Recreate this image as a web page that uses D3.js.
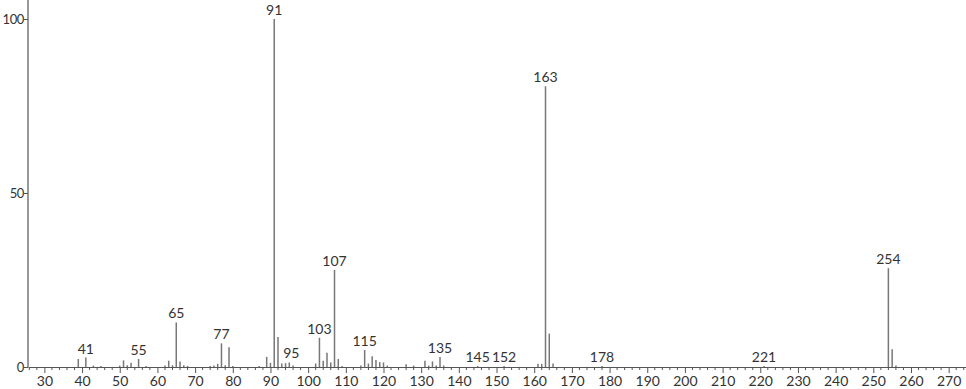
<!DOCTYPE html>
<html>
<head>
<meta charset="utf-8">
<script src="https://cdn.jsdelivr.net/npm/d3@7"></script>
<style>
  body { margin: 0; background: #fff; }
  svg text { font-family: Lato, "DejaVu Sans", sans-serif; fill: #333; }
</style>
</head>
<body>
<svg id="spectrum" width="966" height="389"></svg>
<script>
// m/z values and relative intensities (%)
const mz = [39, 41, 43, 45, 50, 51, 52, 53, 55, 57, 62, 63, 64, 65, 66, 67, 68, 74, 75, 76, 77, 78, 79, 80,
    87, 89, 90, 91, 92, 93, 94, 95, 96, 102, 103, 104, 105, 106, 107, 108, 109, 114, 115, 116, 117, 118,
    119, 120, 121, 126, 128, 131, 132, 133, 134, 135, 136, 145, 152, 161, 162, 163, 164, 165, 178, 221,
    254, 255, 256];
const intensity = [2.3, 2.7, 0.4, 0.3, 0.4, 1.9, 0.5, 1.2, 2.3, 0.3, 0.4, 1.8, 0.5, 12.8, 1.6, 0.5, 0.3, 0.3, 0.4, 0.9, 6.8, 0.5, 5.7, 0.3,
    0.3, 2.9, 1.2, 100, 8.6, 1.0, 1.1, 1.3, 0.4, 1.0, 8.4, 1.8, 4.1, 1.3, 27.9, 2.3, 0.3, 0.4, 4.9, 1.0, 3.1, 2.0,
    1.4, 1.3, 0.4, 0.8, 0.4, 1.8, 0.4, 1.6, 0.4, 2.9, 0.4, 0.3, 0.3, 0.9, 0.9, 80.7, 9.6, 1.0, 0.3, 0.3,
    28.4, 5.1, 0.4];
const labelled = [41, 55, 65, 77, 91, 95, 103, 107, 115, 135, 145, 152, 163, 178, 221, 254];
const yTicks = [0, 50, 100];

const peaks = mz.map((m, i) => ({ mz: m, value: intensity[i] }));

const svg = d3.select("#spectrum");
const x = d3.scaleLinear().domain([25.65, 274.6]).range([28, 966]);
const y = d3.scaleLinear().domain([0, 100]).range([367, 19]);

// x axis: major every 10, minor every 2
const xAxis = svg.append("g")
    .attr("transform", `translate(0,${y(0)})`)
    .call(d3.axisBottom(x)
        .tickValues(d3.range(30, 271, 10))
        .tickSize(6)
        .tickSizeOuter(0)
        .tickPadding(3));
xAxis.select(".domain").attr("stroke", "#555");
xAxis.selectAll(".tick line").attr("stroke", "#555");
xAxis.selectAll(".tick text").attr("font-size", 14).attr("fill", "#333");

svg.append("g")
    .attr("transform", `translate(0,${y(0)})`)
    .selectAll("line")
    .data(d3.range(26, 275, 2).filter(d => d % 10 !== 0))
    .enter().append("line")
    .attr("x1", d => x(d))
    .attr("x2", d => x(d))
    .attr("y1", 0)
    .attr("y2", 3)
    .attr("stroke", "#555");

// y axis
svg.append("line")
    .attr("x1", x.range()[0]).attr("x2", x.range()[0])
    .attr("y1", 0).attr("y2", y(0))
    .attr("stroke", "#999")
    .attr("stroke-width", 2);

const yAxis = svg.append("g")
    .attr("transform", `translate(${x.range()[0]},0)`)
    .call(d3.axisLeft(y).tickValues(yTicks).tickSize(4).tickPadding(0));
yAxis.select(".domain").remove();
yAxis.selectAll(".tick line").attr("stroke", "#555");
yAxis.selectAll(".tick text")
    .attr("font-size", 13)
    .attr("letter-spacing", "-0.4px")
    .attr("fill", "#333");

// peaks
svg.append("g")
    .selectAll("line")
    .data(peaks)
    .enter().append("line")
    .attr("x1", d => x(d.mz))
    .attr("x2", d => x(d.mz))
    .attr("y1", y(0))
    .attr("y2", d => y(d.value))
    .attr("stroke", "#777")
    .attr("stroke-width", 1.5);

svg.append("g")
    .selectAll("text")
    .data(peaks.filter(d => labelled.includes(d.mz)))
    .enter().append("text")
    .attr("x", d => x(d.mz) + (d.mz === 95 ? 2 : 0))
    .attr("y", d => y(d.value) - 4)
    .attr("text-anchor", "middle")
    .attr("font-size", 14)
    .text(d => d.mz);
</script>
</body>
</html>
